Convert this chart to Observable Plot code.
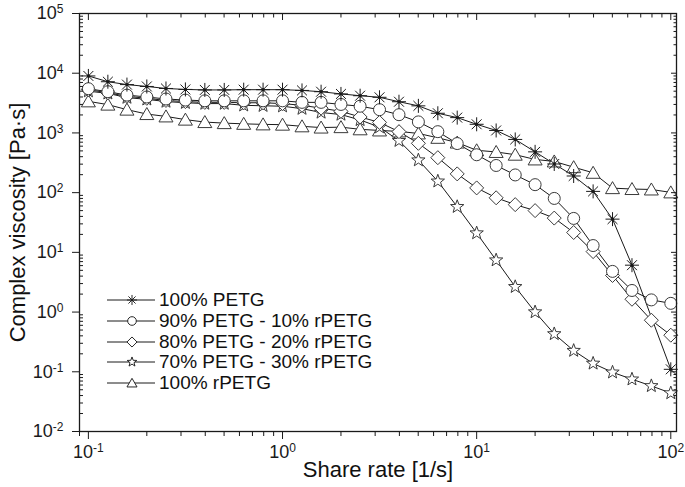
<!DOCTYPE html>
<html><head><meta charset="utf-8">
<script src="https://cdn.jsdelivr.net/npm/d3@7"></script>
<script src="https://cdn.jsdelivr.net/npm/@observablehq/plot@0.6"></script>
<style>
body{margin:0;background:#fff;}
#wrap{position:relative;width:685px;height:487px;font-family:"Liberation Sans",Arial,sans-serif;}
#legend{position:absolute;left:107px;top:290px;}
.row{display:flex;align-items:center;height:20.7px;font-size:19px;color:#111;white-space:nowrap;}
.row svg{margin-right:2px;}
</style></head><body><div id="wrap"><div id="legend"></div></div>
<script>
// ---- data ----
const shearRate = [0.1, 0.126, 0.158, 0.2, 0.251, 0.316, 0.398, 0.501, 0.631, 0.794,
  1, 1.26, 1.58, 2, 2.51, 3.16, 3.98, 5.01, 6.31, 7.94,
  10, 12.6, 15.8, 20, 25.1, 31.6, 39.8, 50.1, 63.1, 79.4, 100];
const seriesNames = ["100% PETG", "90% PETG - 10% rPETG", "80% PETG - 20% rPETG", "70% PETG - 30% rPETG", "100% rPETG"];
const petg100 = [9000, 7200, 6450, 6000, 5550, 5350, 5250, 5250, 5300, 5300,
  5300, 5150, 4900, 4500, 4200, 3950, 3330, 2840, 2135, 1805,
  1395, 1100, 778, 482, 302, 190, 105, 36, 6.1, null, 0.11];
const petg90 = [5500, 4900, 4300, 4000, 3700, 3550, 3450, 3450, 3450, 3450,
  3450, 3250, 3250, 3000, 2800, 2450, 2020, 1530, 1050, 664,
  431, 285, 198, 136, 80, 37, 13, 4.8, 2.3, 1.6, 1.4];
const petg80 = [5300, 4700, 4100, 3800, 3500, 3350, 3250, 3250, 3200, 3200,
  3100, 2900, 2600, 2300, 1850, 1500, 1050, 670, 385, 206,
  120, 82, 63, 50, 37.5, 21.5, 10.3, 4.1, 1.64, 0.73, 0.41];
const petg70 = [5000, 4600, 3900, 3650, 3350, 3200, 3100, 3100, 2900, 2850,
  2800, 2550, 2200, 2030, 1650, 1250, 740, 350, 155, 58,
  21, 7.4, 2.65, 1.0, 0.43, 0.226, 0.138, 0.098, 0.075, 0.058, 0.044];
const rpetg100 = [3380, 2980, 2455, 2070, 1890, 1670, 1520, 1460, 1420, 1390,
  1375, 1290, 1230, 1250, 1150, 1100, 1060, 980, 828, 690,
  512, 480, 432, 360, 333, 267, 215, 119, 115, 113, 101];
const xMajor = [0.1, 1, 10, 100];
const yMajor = [1e-2, 1e-1, 1, 10, 100, 1e3, 1e4, 1e5];

// ---- symbols ----
const symAsterisk = {draw(c){const r=7;for(const a of [0,45,90,135]){const t=a*Math.PI/180;c.moveTo(-r*Math.cos(t),-r*Math.sin(t));c.lineTo(r*Math.cos(t),r*Math.sin(t));}}};
const symCircle = {draw(c){c.moveTo(6,0);c.arc(0,0,6,0,2*Math.PI);c.closePath();}};
const symDiamond = {draw(c){c.moveTo(0,-7);c.lineTo(7,0);c.lineTo(0,7);c.lineTo(-7,0);c.closePath();}};
const symStar = {draw(c){for(let i=0;i<10;i++){const r=i%2?2.9:7;const t=(-90+36*i)*Math.PI/180;const x=r*Math.cos(t),y=r*Math.sin(t);i?c.lineTo(x,y):c.moveTo(x,y);}c.closePath();}};
const symTriangle = {draw(c){c.moveTo(0,-6.5);c.lineTo(7,5.5);c.lineTo(-7,5.5);c.closePath();}};
const symbols = [symAsterisk, symCircle, symDiamond, symStar, symTriangle];
const values = [petg100, petg90, petg80, petg70, rpetg100];

const rows = values.map(v => shearRate.map((r,i)=>({rate:r, eta:v[i]})).filter(d=>d.eta!=null));

const xMinor=[], yMinor=[];
for (const k of [0.01,0.1,1,10]) for (let m=2;m<=9;m++){const v=+(m*k).toPrecision(3); if(v>=0.0899 && v<=107) xMinor.push(v);}
for (let e=-2;e<5;e++) for (let m=2;m<=9;m++) yMinor.push(+(m*Math.pow(10,e)).toPrecision(3));

const sup = d => "10^" + Math.round(Math.log10(d));
const none = () => "";
const ink = "#1a1a1a";

const marks = [];
rows.forEach(r => marks.push(Plot.line(r, {x:"rate", y:"eta", stroke:ink, strokeWidth:1})));
for (let i = rows.length-1; i>=0; i--) {
  marks.push(Plot.dot(rows[i], {x:"rate", y:"eta", symbol:symbols[i], fill: i===0 ? "none" : "white", stroke: i===0 ? ink : "#3a3a3a", strokeWidth:1}));
  if (i===0) marks.push(Plot.dot(rows[0], {x:"rate", y:"eta", r:1.7, fill:ink}));
}
marks.push(
  Plot.axisX(xMajor, {anchor:"bottom", tickSize:8, tickPadding:6, tickFormat:sup, fontSize:18, label:null}),
  Plot.axisX(xMinor, {anchor:"bottom", tickSize:5, tickFormat:none, label:null}),
  Plot.axisX(xMajor, {anchor:"top", tickSize:-6, tickFormat:none, label:null}),
  Plot.axisX(xMinor, {anchor:"top", tickSize:-3.5, tickFormat:none, label:null}),
  Plot.axisY(yMajor, {anchor:"left", tickSize:7, tickPadding:9, tickFormat:sup, fontSize:18, label:null}),
  Plot.axisY(yMinor, {anchor:"left", tickSize:-4, tickFormat:none, label:null}),
  Plot.axisY(yMajor, {anchor:"right", tickSize:-6, tickFormat:none, label:null}),
  Plot.axisY(yMinor, {anchor:"right", tickSize:-3.5, tickFormat:none, label:null}),
  Plot.frame({stroke:ink, strokeWidth:1.3}),
  Plot.text(["Share rate [1/s]"], {frameAnchor:"bottom", textAnchor:"middle", dy:45, fontSize:22, fill:"#111"}),
  Plot.text(["Complex viscosity [Pa·s]"], {frameAnchor:"left", textAnchor:"middle", rotate:-90, dx:-62, fontSize:22, fill:"#111"})
);

const chart = Plot.plot({
  width:685, height:487,
  marginLeft:79, marginRight:9, marginTop:13, marginBottom:56,
  x:{type:"log", domain:[0.09, 107]},
  y:{type:"log", domain:[1e-2, 1e5]},
  style:{fontFamily:'"Liberation Sans", Arial, sans-serif', fontSize:"18px", background:"white", color:ink, overflow:"visible"},
  marks
});
// superscript exponents in tick labels
chart.querySelectorAll("text").forEach(t => {
  const m = /^10\^(-?\d+)$/.exec(t.textContent);
  if (!m) return;
  t.textContent = "";
  const a = document.createElementNS("http://www.w3.org/2000/svg","tspan"); a.textContent = "10";
  const b = document.createElementNS("http://www.w3.org/2000/svg","tspan"); b.textContent = m[1];
  b.setAttribute("dy","-0.5em"); b.setAttribute("font-size","12px");
  t.append(a, b);
});
document.getElementById("wrap").prepend(chart);

// legend
const leg = document.getElementById("legend");
seriesNames.forEach((name,i) => {
  const row = document.createElement("div"); row.className="row";
  const p = d3.path(); symbols[i].draw(p);
  row.innerHTML = `<svg width="50" height="20"><line x1="0" x2="48" y1="10" y2="10" stroke="${ink}" stroke-width="1"/>` +
    `<path d="${p}" transform="translate(25,10) scale(0.72)" fill="${i===0?'none':'white'}" stroke="${ink}" stroke-width="1.3"/></svg><span>${name}</span>`;
  leg.append(row);
});
</script></body></html>
